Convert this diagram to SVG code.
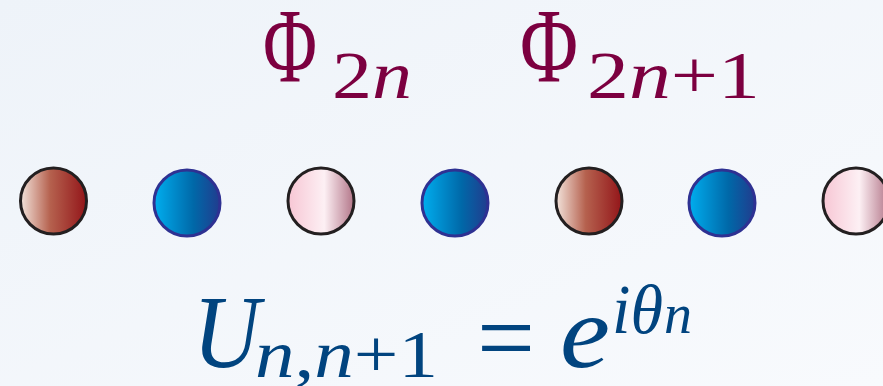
<svg xmlns="http://www.w3.org/2000/svg" width="883" height="386" viewBox="0 0 883 386">
<defs>
<linearGradient id="bg" x1="0" y1="0" x2="1" y2="1">
<stop offset="0" stop-color="#EEF3F9"/><stop offset="1" stop-color="#F8FAFD"/>
</linearGradient>
<linearGradient id="gRed" x1="0" y1="0" x2="1" y2="0">
<stop offset="0" stop-color="#F3E4DC"/><stop offset="0.45" stop-color="#B5614E"/><stop offset="1" stop-color="#931519"/>
</linearGradient>
<linearGradient id="gBlue" x1="0" y1="0" x2="1" y2="0">
<stop offset="0" stop-color="#00AEEF"/><stop offset="0.6" stop-color="#0068A8"/><stop offset="1" stop-color="#213C8E"/>
</linearGradient>
<linearGradient id="gPink" x1="0" y1="0" x2="1" y2="0">
<stop offset="0" stop-color="#F7C6D4"/><stop offset="0.55" stop-color="#FDF0F4"/><stop offset="1" stop-color="#B27588"/>
</linearGradient>
</defs>
<style>
.red{fill:url(#gRed);stroke:#231F20;stroke-width:3}
.blue{fill:url(#gBlue);stroke:#2E3192;stroke-width:3}
.pink{fill:url(#gPink);stroke:#231F20;stroke-width:3}
text{font-family:"Liberation Serif",Tinos,"Times New Roman","Noto Serif","DejaVu Serif",FreeSerif,serif}
.phi{fill:#7C0040}
.eq{fill:#01447F}
.it{font-style:italic}
</style>
<rect width="883" height="386" fill="url(#bg)"/>
<g id="site1"><circle class="red" cx="53.5" cy="201" r="33"/></g>
<g id="site2"><circle class="blue" cx="187" cy="203" r="33"/></g>
<g id="site3"><circle class="pink" cx="321" cy="201" r="33"/></g>
<g id="site4"><circle class="blue" cx="455" cy="203" r="33"/></g>
<g id="site5"><circle class="red" cx="589" cy="201" r="33"/></g>
<g id="site6"><circle class="blue" cx="722" cy="203" r="33"/></g>
<g id="site7"><circle class="pink" cx="856" cy="201" r="33"/></g>
<g id="label-phi-2n">
<text class="phi" x="263" y="82" font-size="106" textLength="54" lengthAdjust="spacingAndGlyphs">Φ</text>
<text class="phi" x="332" y="98" font-size="68" textLength="80" lengthAdjust="spacingAndGlyphs">2<tspan class="it">n</tspan></text>
</g>
<g id="label-phi-2n1">
<text class="phi" x="520" y="82" font-size="106" textLength="58" lengthAdjust="spacingAndGlyphs">Φ</text>
<text class="phi" x="587" y="98" font-size="68" textLength="173" lengthAdjust="spacingAndGlyphs">2<tspan class="it">n</tspan>+1</text>
</g>
<g id="label-U">
<text class="eq it" x="193" y="367" font-size="104" textLength="67" lengthAdjust="spacingAndGlyphs">U</text>
<text class="eq" x="255" y="377" font-size="68" textLength="183" lengthAdjust="spacingAndGlyphs"><tspan class="it">n</tspan>,<tspan class="it">n</tspan>+1</text>
<text class="eq" x="477" y="373" font-size="104" textLength="58" lengthAdjust="spacingAndGlyphs">=</text>
<text class="eq it" x="560" y="367" font-size="104" textLength="50" lengthAdjust="spacingAndGlyphs">e</text>
<text class="eq it" x="612" y="333" font-size="70" textLength="51" lengthAdjust="spacingAndGlyphs">iθ</text>
<text class="eq it" x="664" y="333" font-size="56" textLength="28" lengthAdjust="spacingAndGlyphs">n</text>
</g>
</svg>
